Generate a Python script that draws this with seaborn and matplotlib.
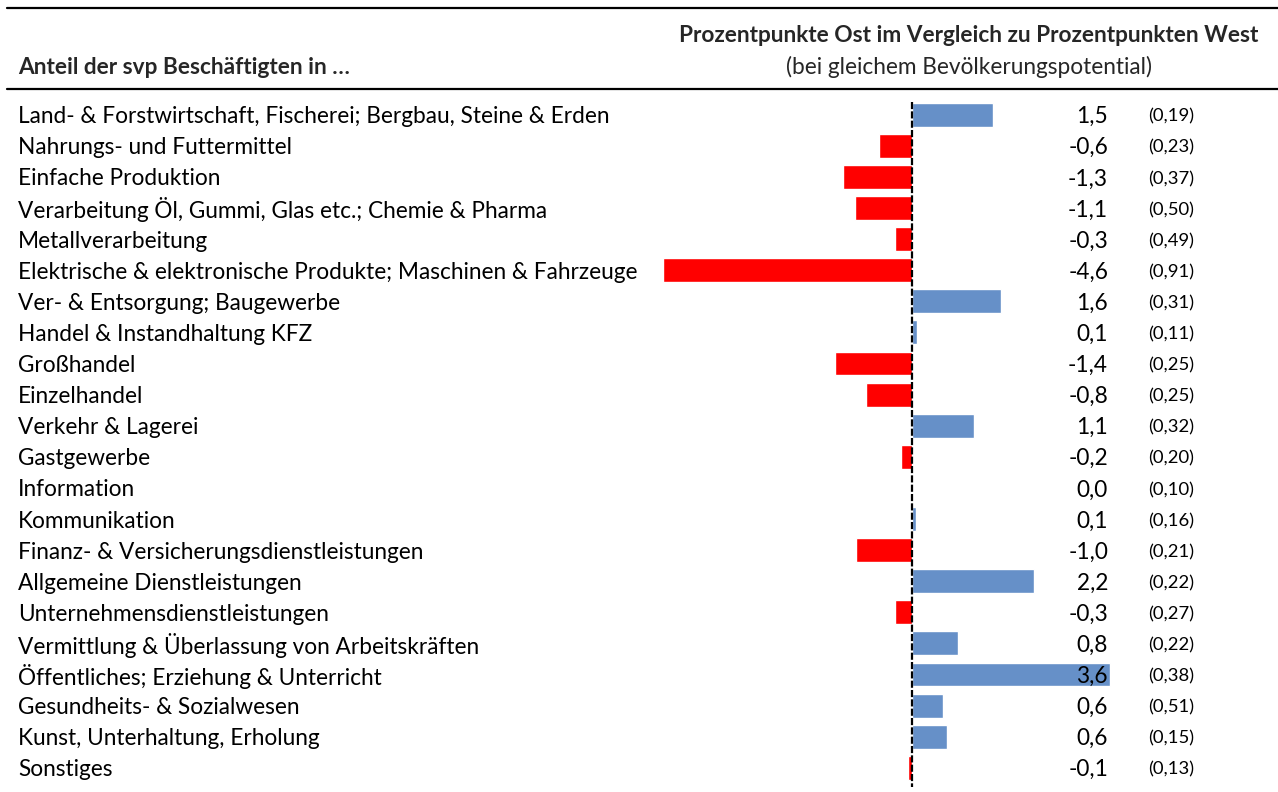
import matplotlib
matplotlib.use("Agg")
import matplotlib.pyplot as plt
import seaborn as sns
import pandas as pd
from matplotlib.lines import Line2D

# Branchen (Zeilen von oben nach unten)
branchen = [
    "Land- & Forstwirtschaft, Fischerei; Bergbau, Steine & Erden",
    "Nahrungs- und Futtermittel",
    "Einfache Produktion",
    "Verarbeitung Öl, Gummi, Glas etc.; Chemie & Pharma",
    "Metallverarbeitung",
    "Elektrische & elektronische Produkte; Maschinen & Fahrzeuge",
    "Ver- & Entsorgung; Baugewerbe",
    "Handel & Instandhaltung KFZ",
    "Großhandel",
    "Einzelhandel",
    "Verkehr & Lagerei",
    "Gastgewerbe",
    "Information",
    "Kommunikation",
    "Finanz- & Versicherungsdienstleistungen",
    "Allgemeine Dienstleistungen",
    "Unternehmensdienstleistungen",
    "Vermittlung & Überlassung von Arbeitskräften",
    "Öffentliches; Erziehung & Unterricht",
    "Gesundheits- & Sozialwesen",
    "Kunst, Unterhaltung, Erholung",
    "Sonstiges",
]

# Differenz Ost vs. West in Prozentpunkten
differenz = [1.48, -0.61, -1.26, -1.05, -0.32, -4.57, 1.64, 0.09, -1.41, -0.84,
             1.14, -0.20, -0.02, 0.07, -1.03, 2.24, -0.31, 0.84, 3.64, 0.57,
             0.64, -0.07]

# Standardfehler
standardfehler = [0.19, 0.23, 0.37, 0.50, 0.49, 0.91, 0.31, 0.11, 0.25, 0.25,
                  0.32, 0.20, 0.10, 0.16, 0.21, 0.22, 0.27, 0.22, 0.38, 0.51,
                  0.15, 0.13]

BLAU = "#6690C8"
ROT = "#FF0000"

sns.set_theme(style="white")
plt.rcParams["font.family"] = ["Lato", "DejaVu Sans"]

W, H = 1278, 792
fig = plt.figure(figsize=(W / 100, H / 100), dpi=100)
ax = fig.add_axes([0, 0, 1, 1])

df = pd.DataFrame({
    "branche": branchen,
    "wert": differenz,
    "richtung": ["pos" if v >= 0 else "neg" for v in differenz],
})

sns.barplot(data=df, y="branche", x="wert", hue="richtung",
            palette={"pos": BLAU, "neg": ROT}, order=branchen,
            dodge=False, width=0.77, orient="h", legend=False,
            saturation=1, ax=ax, zorder=2)

# Pixelgenaue Skalen: Nulllinie bei x=912 px, 54.5 px je Prozentpunkt,
# erste Zeile bei y=114.7 px, Zeilenabstand 31.1 px
x0, sx = 912.0, 54.5
y0, sy = 114.7, 31.1
ax.set_xlim(-x0 / sx, (W - x0) / sx)
ax.set_ylim((H - y0) / sy, -y0 / sy)
ax.axis("off")

# gestrichelte Nulllinie
ax.plot([0, 0], [(102 - y0) / sy, (787 - y0) / sy], color="black",
        lw=1.6, ls=(0, (3.2, 1.0)), zorder=3)

fs = 16.3
fs_se = 13.3
x_lab = (18 - x0) / sx
x_val = (1108 - x0) / sx
x_se = (1148 - x0) / sx
dy = 2.0 / sy  # Text leicht unter der Balkenmitte


def fmt(v, nd):
    r = round(v, nd) + 0.0
    return f"{r:.{nd}f}".replace(".", ",")


for i, (b, v, s) in enumerate(zip(branchen, differenz, standardfehler)):
    ax.text(x_lab, i + dy, b, ha="left", va="center", fontsize=fs,
            color="black")
    ax.text(x_val, i + dy, fmt(v, 1), ha="right", va="center", fontsize=fs,
            color="black", zorder=4)
    ax.text(x_se, i + dy, f"({fmt(s, 2)})", ha="left", va="center",
            fontsize=fs_se, color="black")

# Kopfzeile mit Linien
for ypx in (8, 89):
    fig.add_artist(Line2D([7 / W, 1], [1 - ypx / H, 1 - ypx / H],
                          color="black", lw=1.6, transform=fig.transFigure))

fig.text(18 / W, 1 - 68 / H, "Anteil der svp Beschäftigten in …",
         ha="left", va="center", fontsize=fs, fontweight="bold")
fig.text(969 / W, 1 - 35 / H,
         "Prozentpunkte Ost im Vergleich zu Prozentpunkten West",
         ha="center", va="center", fontsize=fs, fontweight="bold")
fig.text(969 / W, 1 - 67 / H, "(bei gleichem Bevölkerungspotential)",
         ha="center", va="center", fontsize=fs)

fig.savefig("out.png", dpi=100, facecolor="white")
